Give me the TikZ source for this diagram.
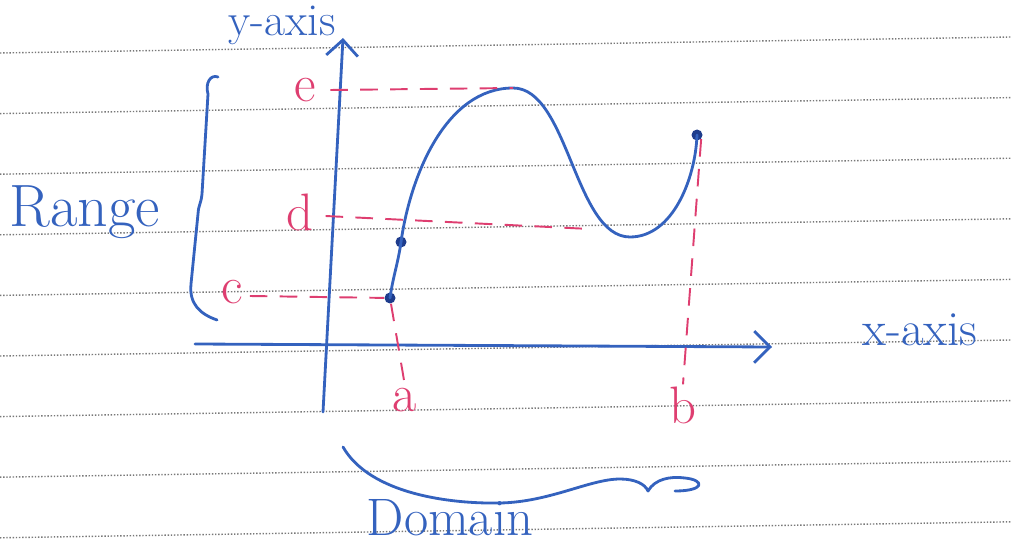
\documentclass[tikz,border=0pt]{standalone}
\usepackage{xcolor}
\usepackage{tikz}
\usetikzlibrary{arrows.meta, positioning, calc}
\definecolor{penblue}{RGB}{52,98,190}
\definecolor{dotblue}{RGB}{30,60,140}
\definecolor{penpink}{RGB}{222,62,112}
\definecolor{rulegray}{RGB}{120,120,120}
\tikzset{
  pen/.style={line width=1.6pt, color=penblue, line cap=round, line join=round},
  axisarrow/.style={pen, -{Straight Barb[length=9pt, width=18pt, line width=1.6pt]}},
  guide/.style={line width=1.1pt, color=penpink, dash pattern=on 10pt off 7pt},
  rule/.style={line width=0.8pt, color=rulegray, densely dotted},
  ptdot/.style={circle, fill=dotblue, inner sep=0pt, minimum size=0.22cm},
  bluelabel/.style={text=penblue, inner sep=1pt},
  pinklabel/.style={text=penpink, inner sep=1pt, font=\fontsize{30}{32}\selectfont}
}

\begin{document}
\begin{tikzpicture}
  \useasboundingbox (0,0) rectangle (20.24,10.88);
  % ruled paper
  \foreach \r in {0,...,8}
    \draw[rule] (0,{9.82-1.212*\r}) -- (20.24,{10.14-1.212*\r});

  % axes
  \coordinate (ybot) at (6.46,2.64);
  \coordinate (ytop) at (6.86,10.12);
  \coordinate (xleft) at (3.9,4.0);
  \coordinate (xright) at (15.44,3.94);
  \draw[axisarrow] (ybot) -- (ytop);
  \draw[axisarrow] (xleft) -- (xright);
  \node[bluelabel, font=\fontsize{26}{28}\selectfont] (ylab) at (5.64,10.38) {y-axis};
  \node[bluelabel, font=\fontsize{28}{30}\selectfont] (xlab) at (18.4,4.28) {x-axis};

  % curve points
  \node[ptdot] (pc) at (7.8,4.92) {};
  \node[ptdot] (pd) at (8.02,6.04) {};
  \coordinate (peak) at (10.26,9.12);
  \coordinate (trough) at (12.6,6.14);
  \node[ptdot] (pend) at (13.94,8.18) {};
  \draw[pen] (pc.center) to[out=82,in=-98] (pd.center)
    to[out=82,in=180, looseness=0.9] (peak)
    to[out=0,in=180, looseness=0.75] (trough)
    to[out=0,in=-92, looseness=0.9] (pend.center);

  % dashed guides
  \node[pinklabel] (le) at (6.1,9.08) {e};
  \node[pinklabel] (ld) at (6.0,6.64) {d};
  \node[pinklabel] (lc) at (4.64,5.04) {c};
  \node[pinklabel] (la) at (8.1,2.88) {a};
  \node[pinklabel] (lb) at (13.66,2.78) {b};
  \coordinate (dend) at (11.8,6.3);
  \draw[guide] (le.east) ++(0.25,0) -- (peak);
  \draw[guide] (ld.east) ++(0.2,-0.08) -- (dend);
  \draw[guide] (lc.east) ++(0.1,-0.08) -- (pc);
  \draw[guide] (pc) -- (la.north);
  \draw[guide] (pend.south east) -- (lb.north);

  % braces
  \draw[pen] (4.36,9.34) .. controls (4.2,9.4) and (4.1,9.2) .. (4.16,9.0)
    -- (4.04,7.0) .. controls (4.02,6.8) and (3.96,6.75) .. (3.96,6.6)
    -- (3.82,5.2) .. controls (3.78,4.8) and (4.0,4.6) .. (4.34,4.48);
  \node[bluelabel, font=\fontsize{34}{36}\selectfont] (range) at (1.7,6.64) {Range};
  \draw[pen] (6.86,1.94) .. controls (7.4,1.0) and (9.0,0.8) .. (10.0,0.82)
    .. controls (11.0,0.84) and (11.8,1.3) .. (12.4,1.3)
    .. controls (12.7,1.3) and (12.9,1.2) .. (12.96,1.06)
    .. controls (13.1,1.3) and (13.4,1.36) .. (13.7,1.32)
    .. controls (14.1,1.28) and (14.1,1.06) .. (13.5,1.06);
  \node[bluelabel, font=\fontsize{30}{32}\selectfont] (domain) at (9.0,0.52) {Domain};
\end{tikzpicture}
\end{document}
